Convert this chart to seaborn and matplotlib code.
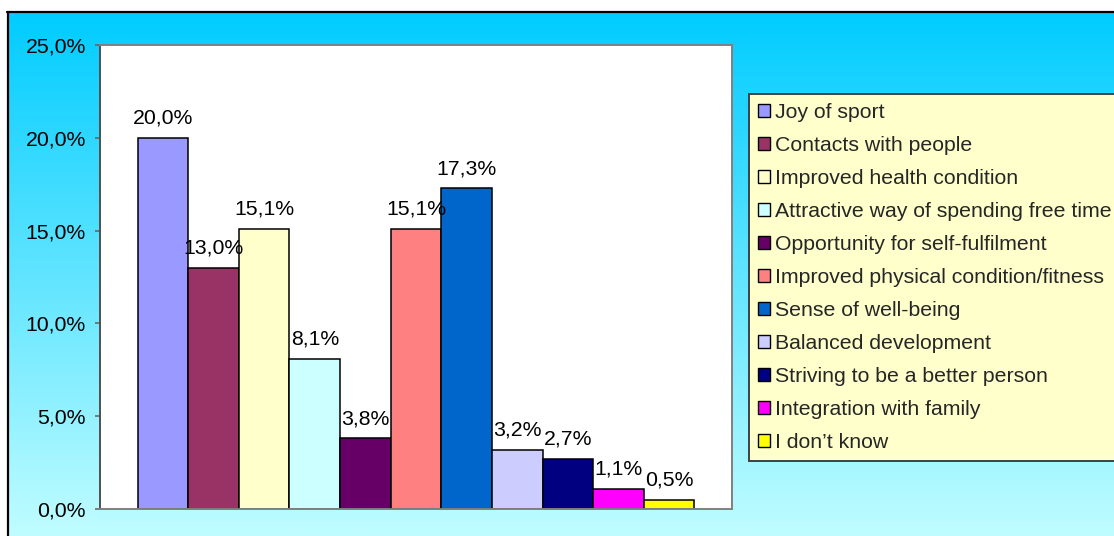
import numpy as np
import pandas as pd
import matplotlib
matplotlib.use("Agg")
import matplotlib.pyplot as plt
from matplotlib.patches import Patch
from matplotlib.lines import Line2D
from matplotlib.ticker import FuncFormatter
import seaborn as sns

# Motives for practising sport (share of answers, %)
categories = [
    "Joy of sport",
    "Contacts with people",
    "Improved health condition",
    "Attractive way of spending free time",
    "Opportunity for self-fulfilment",
    "Improved physical condition/fitness",
    "Sense of well-being",
    "Balanced development",
    "Striving to be a better person",
    "Integration with family",
    "I don\u2019t know",
]
values = [20.0, 13.0, 15.1, 8.1, 3.8, 15.1, 17.3, 3.2, 2.7, 1.1, 0.5]
colors = ["#9999FF", "#993366", "#FFFFCC", "#CCFFFF", "#660066", "#FF8080",
          "#0066CC", "#CCCCFF", "#000080", "#FF00FF", "#FFFF00"]
yticks = [0, 5, 10, 15, 20, 25]

sns.set_style("white")
plt.rcParams["font.family"] = ["Liberation Sans", "DejaVu Sans"]
FS = 15.3

W, H = 1114, 536
fig = plt.figure(figsize=(W / 100, H / 100), dpi=100)
fig.patch.set_facecolor("white")

# chart area background: vertical cyan gradient inside a black frame
bg = fig.add_axes([7 / W, 0, 1 - 7 / W, 1 - 12 / H], zorder=-10)
top = np.array([0, 204, 255]) / 255
bot = np.array([200, 255, 255]) / 255
t = np.linspace(0, 0.96, 256)[:, None]
grad = (top[None, :] * (1 - t) + bot[None, :] * t)[:, None, :]
bg.imshow(grad, aspect="auto", extent=(0, 1, 0, 1))
bg.set_axis_off()
fig.add_artist(Line2D([7 / W, 1], [1 - 12 / H, 1 - 12 / H], transform=fig.transFigure,
                      color="black", lw=1.6))
fig.add_artist(Line2D([8 / W, 8 / W], [0, 1 - 12 / H], transform=fig.transFigure,
                      color="black", lw=1.6))

ax = fig.add_axes([100 / W, 1 - 509 / H, 632 / W, 464 / H])
ax.set_facecolor("white")

df = pd.DataFrame({"category": categories, "value": values})
sns.barplot(data=df, x="category", y="value", hue="category", order=categories,
            hue_order=categories, palette=colors, saturation=1, width=1.0,
            dodge=False, legend=False, edgecolor="black", linewidth=1.1, ax=ax)

for i, v in enumerate(values):
    ax.annotate(f"{v:.1f}%".replace(".", ","), xy=(i, v), xytext=(0, 10),
                textcoords="offset points", ha="center", va="baseline",
                fontsize=FS, color="black", zorder=5)

ax.set_ylim(0, 25)
ax.set_xlim(-1.245, 11.245)
ax.set_yticks(yticks)
ax.yaxis.set_major_formatter(FuncFormatter(lambda v, p: f"{v:.1f}%".replace(".", ",")))
ax.tick_params(axis="y", left=True, length=3.6, width=1.1, color="#606060",
               pad=6.5, labelsize=FS, labelcolor="black")
ax.tick_params(axis="x", bottom=False, labelbottom=False)
ax.set_xlabel("")
ax.set_ylabel("")
for side, sp in ax.spines.items():
    sp.set_visible(True)
    sp.set_color("#808080")
    sp.set_linewidth(1.4)
ax.spines["left"].set_color("#505050")

# legend box runs past the right edge of the canvas
handles = [Patch(facecolor=c, edgecolor="black", linewidth=1.0) for c in colors]
leg = fig.legend(handles, categories, loc="upper left", mode="expand",
                 bbox_to_anchor=(749 / W, 1 - 94 / H, 400 / W, 0.0), fontsize=FS,
                 frameon=True, fancybox=False, framealpha=1,
                 facecolor="#FFFFCC", edgecolor="#404040",
                 borderpad=0.42, labelspacing=0.66, handlelength=0.58,
                 handleheight=0.58, handletextpad=0.24, borderaxespad=0)
leg.get_frame().set_linewidth(1.4)

fig.savefig("out.png", dpi=100)
